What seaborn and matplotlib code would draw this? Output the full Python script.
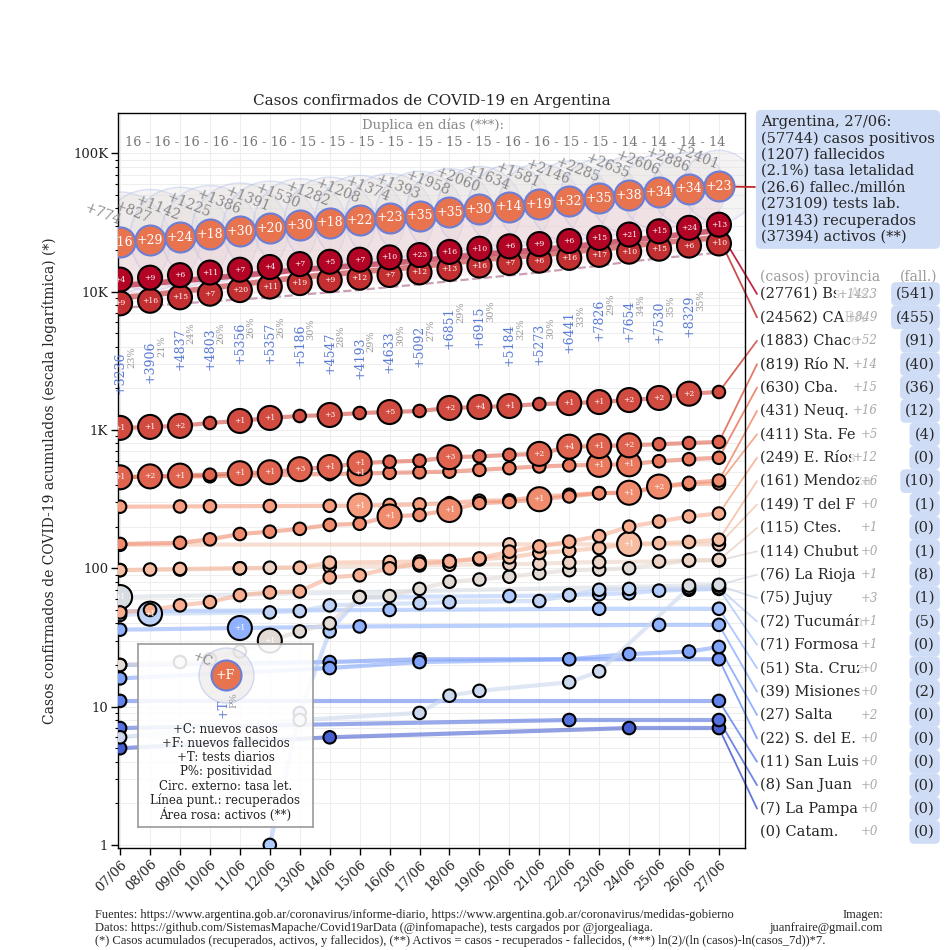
import numpy as np
import pandas as pd
import matplotlib
matplotlib.use("Agg")
import matplotlib.pyplot as plt
import seaborn as sns
from matplotlib.ticker import FixedLocator, FuncFormatter, LogLocator, NullFormatter

# ---------------- data ----------------
dates = ["07/06", "08/06", "09/06", "10/06", "11/06", "12/06", "13/06", "14/06",
         "15/06", "16/06", "17/06", "18/06", "19/06", "20/06", "21/06", "22/06",
         "23/06", "24/06", "25/06", "26/06", "27/06"]

arg_cases = [22794, 23621, 24763, 25988, 27374, 28765, 30295, 31577, 32785, 34159, 35552,
             37510, 39570, 41204, 42785, 44931, 47216, 49851, 52457, 55343, 57744]
arg_new_cases = [774, 827, 1142, 1225, 1386, 1391, 1530, 1282, 1208, 1374, 1393,
                 1958, 2060, 1634, 1581, 2146, 2285, 2635, 2606, 2886, 2401]
arg_deaths = [664, 693, 717, 735, 765, 785, 815, 833, 855, 878, 913,
              948, 978, 992, 1011, 1043, 1078, 1116, 1150, 1184, 1207]
arg_new_deaths = [16, 29, 24, 18, 30, 20, 30, 18, 22, 23, 35,
                  35, 30, 14, 19, 32, 35, 38, 34, 34, 23]
arg_recovered = [7600, 7900, 8200, 8500, 8800, 9100, 9500, 9900, 10300, 10800, 11300,
                 11900, 12500, 13100, 13800, 14600, 15400, 16500, 17400, 18300, 19143]
tests_daily = [3236, 3906, 4837, 4803, 5356, 5357, 5186, 4547, 4193, 4633,
               5092, 6851, 6915, 5184, 5273, 6441, 7826, 7654, 7530, 8329]
positivity = [23, 21, 24, 26, 26, 26, 30, 28, 29, 30, 27, 29, 30, 32, 30, 33, 29, 34, 35, 35]
doubling_days = [16, 16, 16, 16, 16, 16, 15, 15, 15, 15, 15, 15, 15, 16, 16, 15, 15, 14, 14, 14, 14]

info_lines = ["Argentina, 27/06:", "(57744) casos positivos", "(1207) fallecidos",
              "(2.1%) tasa letalidad", "(26.6) fallec./millón", "(273109) tests lab.",
              "(19143) recuperados", "(37394) activos (**)"]

prov_labels = ["Bs. As.", "CABA", "Chaco", "Río N.", "Cba.", "Neuq.", "Sta. Fe", "E. Ríos",
               "Mendoza", "T del F", "Ctes.", "Chubut", "La Rioja", "Jujuy", "Tucumán",
               "Formosa", "Sta. Cruz", "Misiones", "Salta", "S. del E.", "San Luis",
               "San Juan", "La Pampa", "Catam."]
prov_total = [27761, 24562, 1883, 819, 630, 431, 411, 249, 161, 149, 115, 114, 76, 75, 72,
              71, 51, 39, 27, 22, 11, 8, 7, 0]
prov_new_last = [1423, 849, 52, 14, 15, 16, 5, 12, 6, 0, 1, 0, 1, 3, 1, 1, 0, 0, 2, 0, 0, 0, 0, 0]
prov_fall = [541, 455, 91, 40, 36, 12, 4, 0, 10, 1, 0, 1, 8, 1, 5, 0, 0, 2, 0, 0, 0, 0, 0, 0]

bsas = [11127, 11487, 11979, 12509, 13114, 13719, 14400, 14968, 15498, 16103, 16727,
        17635, 18600, 19357, 20095, 21136, 22252, 23557, 24862, 26338, 27761]
caba = [9063, 9463, 10023, 10643, 11303, 11983, 12703, 13323, 13903, 14543, 15183,
        16083, 17013, 17753, 18453, 19333, 20313, 21433, 22513, 23713, 24562]
chaco = [1036, 1053, 1071, 1125, 1163, 1223, 1263, 1284, 1327, 1349, 1373,
         1444, 1467, 1491, 1541, 1566, 1593, 1647, 1705, 1831, 1883]
rio_negro = [455, 462, 468, 475, 487, 495, 521, 540, 575, 590, 600,
             636, 645, 661, 672, 758, 765, 775, 790, 805, 819]
cordoba = [458, 460, 462, 463, 468, 470, 478, 480, 485, 490, 495,
           500, 515, 530, 545, 555, 560, 565, 595, 615, 630]
neuquen = [150, 150, 153, 162, 177, 184, 193, 206, 210, 237, 243,
           264, 296, 302, 316, 331, 349, 352, 390, 415, 431]
santa_fe = [279, 279, 280, 281, 281, 282, 282, 283, 284, 287, 290,
            296, 308, 310, 330, 340, 350, 352, 388, 406, 411]
entre_rios = [48, 50, 54, 57, 64, 67, 68, 86, 89, 100, 108,
              112, 118, 132, 144, 156, 171, 200, 218, 237, 249]
mendoza = [97, 98, 99, 99, 100, 100, 101, 110, 110, 111, 112,
           113, 116, 120, 129, 134, 140, 150, 152, 155, 161]
tdf = [148, 148, 148, 148, 148, 148, 148, 148, 148, 148, 148,
       148, 148, 149, 149, 149, 149, 149, 149, 149, 149]
corrientes = [97, 97, 98, 98, 100, 101, 101, 103, 103, 104, 105,
              106, 106, 107, 108, 110, 111, 111, 112, 114, 115]
chubut = [20, 20, 21, 22, 25, 30, 35, 40, 62, 63, 71,
          80, 83, 87, 92, 97, 98, 100, 100, 114, 114]
la_rioja = [62, 62, 62, 62, 62, 62, 62, 62, 62, 62, 62,
            62, 62, 62, 62, 62, 62, 62, 62, 75, 76]
jujuy = [6, 6, 6, 6, 6, 6, 8, 8, 8, 8, 9,
         12, 13, 13, 13, 15, 18, 18, 18, 72, 75]
tucuman = [46, 47, 47, 47, 47, 48, 49, 54, 54, 54, 56,
           57, 57, 57, 58, 64, 70, 71, 71, 71, 72]
formosa = [0, 0, 0, 0, 0, 1, 9, 35, 62, 62, 62,
           62, 62, 63, 63, 64, 65, 66, 69, 70, 71]
santa_cruz = [49, 49, 49, 49, 49, 49, 49, 49, 49, 50, 50,
              50, 50, 50, 50, 50, 51, 51, 51, 51, 51]
misiones = [36, 36, 36, 36, 37, 37, 37, 37, 38, 38, 38,
            38, 38, 38, 38, 38, 38, 38, 39, 39, 39]
salta = [16, 16, 16, 16, 16, 16, 16, 19, 19, 19, 21,
         21, 21, 21, 21, 22, 22, 24, 24, 25, 27]
sde = [20, 20, 20, 20, 20, 20, 20, 21, 21, 21, 22,
       22, 22, 22, 22, 22, 22, 22, 22, 22, 22]
san_luis = [11, 11, 11, 11, 11, 11, 11, 11, 11, 11, 11,
            11, 11, 11, 11, 11, 11, 11, 11, 11, 11]
san_juan = [7, 7, 7, 7, 7, 7, 7, 7, 7, 7, 7,
            7, 7, 7, 7, 8, 8, 8, 8, 8, 8]
la_pampa = [5, 5, 5, 5, 5, 5, 5, 6, 6, 6, 6,
            6, 6, 6, 6, 6, 6, 7, 7, 7, 7]
catamarca = [0, 0, 0, 0, 0, 0, 0, 0, 0, 0, 0,
             0, 0, 0, 0, 0, 0, 0, 0, 0, 0]

# new deaths per day (only provinces with visible death markers)
bsas_d = [4, 9, 6, 11, 7, 4, 7, 5, 7, 10, 23, 16, 10, 6, 9, 6, 15, 21, 15, 24, 13]
caba_d = [9, 16, 15, 7, 20, 11, 19, 9, 12, 7, 12, 13, 16, 7, 6, 16, 17, 10, 15, 6, 10]
chaco_d = [1, 1, 2, 0, 1, 1, 0, 3, 0, 5, 0, 2, 4, 1, 0, 1, 1, 2, 2, 2, 0]
rio_negro_d = [1, 2, 1, 0, 1, 1, 3, 1, 1, 0, 0, 3, 0, 0, 2, 4, 1, 2, 0, 0, 0]
cordoba_d = [0, 0, 0, 0, 0, 0, 0, 0, 1, 0, 0, 0, 0, 0, 0, 0, 1, 1, 0, 0, 0]
neuquen_d = [0, 0, 0, 0, 0, 0, 0, 0, 0, 1, 0, 1, 0, 0, 1, 0, 0, 1, 2, 0, 0]
santa_fe_d = [0, 0, 0, 0, 0, 0, 0, 0, 1, 0, 0, 0, 0, 0, 0, 0, 0, 0, 0, 0, 0]
mendoza_d = [0, 0, 0, 0, 0, 0, 0, 0, 0, 0, 0, 0, 0, 0, 0, 0, 0, 1, 0, 0, 0]
la_rioja_d = [1, 0, 0, 0, 0, 0, 0, 0, 0, 0, 0, 0, 0, 0, 0, 0, 0, 0, 0, 0, 0]
tucuman_d = [0, 1, 0, 0, 0, 0, 0, 0, 0, 0, 0, 0, 0, 0, 0, 0, 0, 0, 0, 0, 0]
misiones_d = [0, 0, 0, 0, 1, 0, 0, 0, 0, 0, 0, 0, 0, 0, 0, 0, 0, 0, 0, 0, 0]
chubut_d = [0, 0, 0, 0, 0, 1, 0, 0, 0, 0, 0, 0, 0, 0, 0, 0, 0, 0, 0, 0, 0]

prov_series = [bsas, caba, chaco, rio_negro, cordoba, neuquen, santa_fe, entre_rios,
               mendoza, tdf, corrientes, chubut, la_rioja, jujuy, tucuman, formosa,
               santa_cruz, misiones, salta, sde, san_luis, san_juan, la_pampa, catamarca]
prov_death_new = {"Bs. As.": bsas_d, "CABA": caba_d, "Chaco": chaco_d, "Río N.": rio_negro_d,
                  "Cba.": cordoba_d, "Neuq.": neuquen_d, "Sta. Fe": santa_fe_d,
                  "Mendoza": mendoza_d, "La Rioja": la_rioja_d, "Tucumán": tucuman_d,
                  "Misiones": misiones_d, "Chubut": chubut_d}

# ---------------- figure ----------------
W = H = 950
sns.set_theme(style="whitegrid")
plt.rcParams["font.family"] = ["DejaVu Serif"]

def fp(x, y):
    return (x / W, 1 - y / H)

fig = plt.figure(figsize=(9.5, 9.5), dpi=100)
fig.patch.set_facecolor("white")
ax = fig.add_axes([118 / W, 1 - 848 / H, (745 - 118) / W, (848 - 113) / H])
ax.set_facecolor("white")
ax.set_yscale("log")
ndays = len(dates)
days = np.arange(ndays)
ax.set_xlim(-0.07, 20.87)
ax.set_ylim(0.95, 1.96e5)

ax.yaxis.set_major_locator(FixedLocator([1, 10, 100, 1e3, 1e4, 1e5]))
ax.yaxis.set_major_formatter(FuncFormatter(
    lambda v, p: {1: "1", 10: "10", 100: "100", 1000: "1K", 10000: "10K", 100000: "100K"}.get(int(round(v)), "")))
ax.yaxis.set_minor_locator(LogLocator(base=10, subs=np.arange(2, 10)))
ax.yaxis.set_minor_formatter(NullFormatter())
ax.set_xticks(days)
ax.set_xticklabels(dates, rotation=45, ha="right", rotation_mode="anchor")
ax.tick_params(axis="both", which="major", direction="out", length=5, width=1, color="black",
               labelsize=9.5, bottom=True, left=True, labelcolor="#222222", pad=2)
ax.tick_params(axis="y", which="minor", direction="out", length=2.5, width=0.8, left=True, color="black")
ax.grid(True, which="major", axis="x", color="#eeeeee", lw=0.8)
ax.grid(True, which="both", axis="y", color="#eeeeee", lw=0.8)
for s in ax.spines.values():
    s.set_color("black")
    s.set_linewidth(1.0)
ax.set_title("Casos confirmados de COVID-19 en Argentina", fontsize=11, pad=6)

# outer circles (tasa de letalidad)
arg_df = pd.DataFrame({"day": days, "cases": arg_cases, "deaths": arg_deaths,
                       "rec": arg_recovered})
leth = np.array(arg_deaths) / np.array(arg_cases) * 100
outer_s = (34.5 * leth * 0.72) ** 2
sns.scatterplot(data=arg_df, x="day", y="cases", s=outer_s, color="#e4dede", alpha=0.35,
                edgecolor="#9fb2ea", linewidth=1.0, ax=ax, legend=False, zorder=1)

# pink active area + recovered dashed line
ax.fill_between(days, np.array(arg_recovered) + np.array(arg_deaths), arg_cases,
                color="#f4b6c6", alpha=0.18, lw=0, zorder=1)
sns.lineplot(data=arg_df, x="day", y="rec", color="#c99fb3", lw=1.6, linestyle="--",
             ax=ax, zorder=2, legend=False)

# provinces
cmap = plt.get_cmap("coolwarm")
nprov = len(prov_labels)
colors = [cmap(1 - r / (nprov - 1)) for r in range(nprov)]
rows = []
for r, (lab, ser) in enumerate(zip(prov_labels, prov_series)):
    dn = prov_death_new.get(lab)
    valid = [i for i, v in enumerate(ser) if v > 0]
    if not valid:
        continue
    first, last = valid[0], valid[-1]
    for i in valid:
        new = ser[i] - ser[i - 1] if i > 0 else 0
        d = dn[i] if dn else 0
        if i == first or i == last or new > 0 or d > 0:
            rows.append(dict(prov=lab, rank=r, day=i, cases=ser[i], deaths=d))
pts = pd.DataFrame(rows)
offset = {0: 1.1, 1: 1 / 1.1}
pts["ypos"] = [c * offset.get(r, 1.0) for c, r in zip(pts["cases"], pts["rank"])]
pts["s"] = [(24 * 0.72) ** 2 if d > 0 else (12.5 * 0.72) ** 2 for d in pts["deaths"]]

for r in reversed(range(nprov)):
    sub = pts[pts["rank"] == r]
    if sub.empty:
        continue
    sns.lineplot(data=sub, x="day", y="cases", color=colors[r], lw=4.0 if r < 2 else 3.0,
                 alpha=0.6, ax=ax, zorder=3, estimator=None, legend=False)

pts_sorted = pts.sort_values(["rank", "day"], ascending=[False, True]).reset_index(drop=True)
palette = {lab: colors[r] for r, lab in enumerate(prov_labels)}
sns.scatterplot(data=pts_sorted, x="day", y="ypos", hue="prov", palette=palette,
                s=pts_sorted["s"].values, edgecolor="black", linewidth=1.5, ax=ax,
                legend=False, zorder=4)
for _, row in pts_sorted[pts_sorted["deaths"] > 0].iterrows():
    ax.text(row["day"], row["ypos"], f"+{int(row['deaths'])}", ha="center", va="center",
            fontsize=5.5, color="white", zorder=5, clip_on=True)

# Argentina circles
sns.scatterplot(data=arg_df, x="day", y="cases", s=(30 * 0.72) ** 2, color="#e8734f",
                edgecolor="#6b7fd7", linewidth=1.5, ax=ax, legend=False, zorder=6)
for i in days:
    ax.text(i, arg_cases[i], f"+{arg_new_deaths[i]}", ha="center", va="center",
            fontsize=9, color="white", zorder=7, clip_on=True)
    ax.text(i, arg_cases[i] * 1.4, f"+{arg_new_cases[i]}", ha="right", va="center",
            rotation=-22, rotation_mode="anchor", fontsize=10, color="#888888", zorder=7)

# tests and positivity
for i, (t, p) in enumerate(zip(tests_daily, positivity)):
    ax.text(i, t * 0.8, f"+{t}", rotation=90, ha="center", va="center", fontsize=9,
            color="#5a7bd5", zorder=7)
    ax.text(i + 0.38, t * 0.8 * 1.3, f"{p}%", rotation=90, ha="center", va="center",
            fontsize=7, color="#9a9a9a", zorder=7)

# axis labels (set after seaborn calls)
ax.set_xlabel("")
ax.set_ylabel("Casos confirmados de COVID-19 acumulados (escala logarítmica) (*)", fontsize=10)
ax.yaxis.set_label_coords(-0.098, 0.5)

# doubling row
ax.text(0.502, 0.984, "Duplica en días (***):", transform=ax.transAxes, ha="center",
        va="center", fontsize=9.5, color="#8a8a8a")
ax.text(10.2, 0.9605, " - ".join(str(v) for v in doubling_days),
        transform=ax.get_xaxis_transform(), ha="center", va="center", fontsize=9.25,
        color="#777777")

# info box
fig.text(*fp(761, 115), "\n".join(info_lines), ha="left", va="top", fontsize=10.5,
         linespacing=1.2, bbox=dict(boxstyle="round,pad=0.35", fc="#cfdcf6", ec="none"))
ax.annotate("", xy=fp(755, 187), xycoords="figure fraction", xytext=(days[-1], arg_cases[-1]),
            textcoords="data", arrowprops=dict(arrowstyle="-", color="#c0282d", lw=1.3,
                                               shrinkA=0, shrinkB=0), annotation_clip=False)

# province labels
fig.text(*fp(760, 277), "(casos) provincia", ha="left", va="center", fontsize=10, color="#9a9a9a")
fig.text(*fp(937, 277), "(fall.)", ha="right", va="center", fontsize=10, color="#9a9a9a")
row0, dy = 294, 23.39
for r, lab in enumerate(prov_labels):
    yp = row0 + r * dy
    fig.text(*fp(760, yp), f"({prov_total[r]}) {lab}", ha="left", va="center", fontsize=10.5)
    fig.text(*fp(878, yp), f"+{prov_new_last[r]}", ha="right", va="center", fontsize=8.5,
             style="italic", color="#a8a8a8",
             bbox=dict(boxstyle="square,pad=0.15", fc="white", ec="none", alpha=0.8))
    fig.text(*fp(935, yp), f"({prov_fall[r]})", ha="right", va="center", fontsize=10.5,
             bbox=dict(boxstyle="round,pad=0.33", fc="#cfdcf6", ec="none"))
    ser = prov_series[r]
    if ser[-1] > 0:
        ax.annotate("", xy=fp(757, yp), xycoords="figure fraction",
                    xytext=(days[-1], ser[-1]), textcoords="data",
                    arrowprops=dict(arrowstyle="-", color=colors[r], lw=1.3, alpha=0.85,
                                    shrinkA=0, shrinkB=0),
                    annotation_clip=False, zorder=2)

# legend inset
lax = fig.add_axes([138 / W, 1 - 827 / H, 175 / W, 183 / H])
lax.set_xlim(0, 1)
lax.set_ylim(0, 1)
lax.set_facecolor((1, 1, 1, 0.88))
lax.grid(False)
lax.set_xticks([])
lax.set_yticks([])
for s in lax.spines.values():
    s.set_color("#9a9a9a")
    s.set_linewidth(1.2)
lax.scatter([0.5], [0.83], s=(55 * 0.72) ** 2, color="#e4dede", alpha=0.45,
            edgecolor="#9fb2ea", linewidth=1.0)
lax.scatter([0.5], [0.83], s=(30 * 0.72) ** 2, color="#e8734f", edgecolor="#6b7fd7",
            linewidth=1.5)
lax.text(0.5, 0.83, "+F", ha="center", va="center", fontsize=9, color="white")
lax.text(0.37, 0.915, "+C", ha="center", va="center", fontsize=9, color="#888888", rotation=-22)
lax.text(0.486, 0.65, "+T", ha="center", va="center", fontsize=9, color="#5a7bd5", rotation=90)
lax.text(0.55, 0.695, "P%", ha="center", va="center", fontsize=7, color="#9a9a9a", rotation=90)
legend_lines = ["+C: nuevos casos", "+F: nuevos fallecidos", "+T: tests diarios",
                "P%: positividad", "Circ. externo: tasa let.", "Línea punt.: recuperados",
                "Área rosa: activos (**)"]
for k, t in enumerate(legend_lines):
    lax.text(0.5, 0.535 - k * 0.078, t, ha="center", va="center", fontsize=8.5, color="#222222")

# footer
foot_font = ["Liberation Serif", "DejaVu Serif"]
fig.text(*fp(95, 915), "Fuentes: https://www.argentina.gob.ar/coronavirus/informe-diario, "
         "https://www.argentina.gob.ar/coronavirus/medidas-gobierno", ha="left", va="center",
         fontsize=9, family=foot_font)
fig.text(*fp(95, 928), "Datos: https://github.com/SistemasMapache/Covid19arData (@infomapache), "
         "tests cargados por @jorgealiaga.", ha="left", va="center", fontsize=9, family=foot_font)
fig.text(*fp(95, 941), "(*) Casos acumulados (recuperados, activos, y fallecidos), (**) Activos = "
         "casos - recuperados - fallecidos, (***) ln(2)/(ln (casos)-ln(casos_7d))*7.",
         ha="left", va="center", fontsize=9, family=foot_font)
fig.text(*fp(883, 915), "Imagen:", ha="right", va="center", fontsize=9, family=foot_font)
fig.text(*fp(883, 928), "juanfraire@gmail.com", ha="right", va="center", fontsize=9, family=foot_font)

fig.savefig("out.png", dpi=100, facecolor="white")
